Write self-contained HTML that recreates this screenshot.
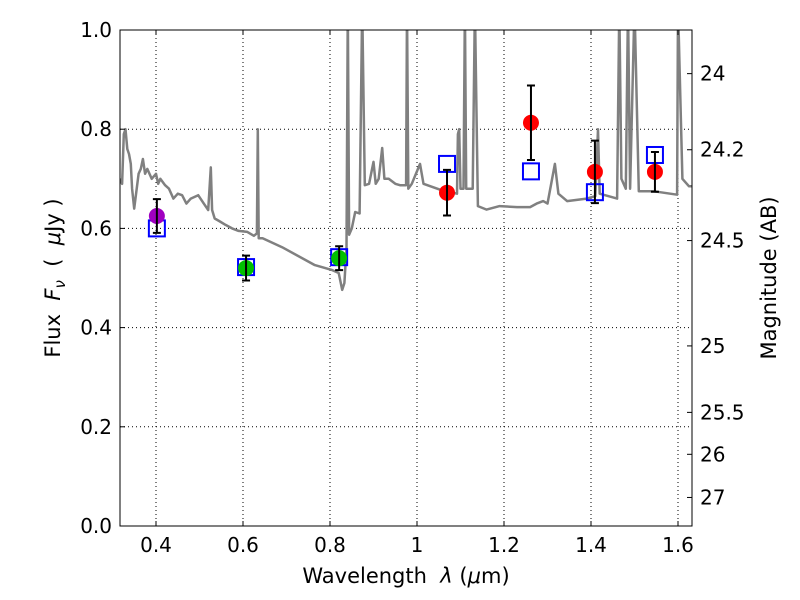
<!DOCTYPE html>
<html><head><meta charset="utf-8"><style>
body{margin:0;background:#fff}
svg{display:block;font-family:"DejaVu Sans","Liberation Sans",sans-serif}
</style></head><body>
<svg id="chart" width="800" height="600" xmlns="http://www.w3.org/2000/svg"></svg>
<script>
const specWl=[0.317,0.322,0.326,0.330,0.334,0.338,0.342,0.345,0.350,0.360,0.365,0.370,0.375,0.380,0.390,0.400,0.405,0.410,0.421,0.430,0.440,0.450,0.460,0.470,0.480,0.497,0.510,0.520,0.526,0.529,0.535,0.545,0.560,0.575,0.590,0.610,0.625,0.632,0.634,0.636,0.645,0.690,0.765,0.805,0.820,0.828,0.833,0.838,0.841,0.844,0.850,0.858,0.868,0.874,0.880,0.890,0.900,0.905,0.912,0.920,0.925,0.935,0.950,0.961,0.975,0.977,0.980,0.988,1.007,1.015,1.053,1.092,1.094,1.097,1.100,1.107,1.110,1.113,1.128,1.133,1.140,1.160,1.190,1.230,1.260,1.275,1.290,1.300,1.317,1.325,1.345,1.390,1.410,1.416,1.420,1.460,1.465,1.470,1.480,1.485,1.490,1.500,1.510,1.543,1.598,1.600,1.610,1.625,1.632];
const specF=[0.70,0.69,0.79,0.80,0.76,0.75,0.73,0.68,0.64,0.71,0.72,0.74,0.71,0.72,0.70,0.71,0.69,0.70,0.687,0.68,0.66,0.67,0.667,0.65,0.66,0.667,0.65,0.637,0.723,0.637,0.62,0.615,0.607,0.60,0.595,0.593,0.585,0.59,0.80,0.58,0.58,0.562,0.526,0.516,0.51,0.476,0.49,0.56,1.05,0.587,0.60,0.633,0.63,1.05,0.687,0.69,0.734,0.69,0.70,0.762,0.70,0.70,0.69,0.687,0.687,1.05,0.68,0.69,0.73,0.69,0.678,0.67,0.79,0.80,0.68,0.68,1.05,0.68,0.68,1.05,0.645,0.638,0.645,0.643,0.643,0.65,0.655,0.65,0.73,0.67,0.655,0.66,0.665,0.80,0.67,0.66,1.05,0.70,0.68,1.05,0.68,1.05,0.675,0.675,0.668,1.05,0.70,0.685,0.685];
const obsWl=[0.402,0.607,0.821,1.069,1.262,1.409,1.547];
const obsF=[0.625,0.520,0.540,0.672,0.813,0.714,0.714];
const obsErr=[0.034,0.025,0.024,0.046,0.075,0.063,0.040];
const obsColor=['#a000c0','#00c000','#00c000','#ff0000','#ff0000','#ff0000','#ff0000'];
const modelF=[0.600,0.522,0.542,0.730,0.715,0.673,0.748];
const xTicks=[0.4,0.6,0.8,1.0,1.2,1.4,1.6];
const xTickLabels=['0.4','0.6','0.8','1','1.2','1.4','1.6'];
const yTicks=[0,0.2,0.4,0.6,0.8,1.0];
const yTickLabels=['0.0','0.2','0.4','0.6','0.8','1.0'];
const magTicks=[24,24.2,24.5,25,25.5,26,27];
const magLabels=['24','24.2','24.5','25','25.5','26','27'];

const L=120,R=692,T=30,B=526;
const sx=w=>156+(w-0.4)*435;
const sy=f=>B-f*496;
const NS='http://www.w3.org/2000/svg';
const svg=document.getElementById('chart');
function mk(tag,attrs,parent){const e=document.createElementNS(NS,tag);for(const k in attrs)e.setAttribute(k,attrs[k]);(parent||svg).appendChild(e);return e;}

const defs=mk('defs',{});const cp=mk('clipPath',{id:'clip'},defs);mk('rect',{x:L,y:T,width:R-L,height:B-T},cp);

xTicks.forEach((t,i)=>{const g=mk('line',{x1:sx(t),x2:sx(t),y1:T,y2:B,stroke:'#000','stroke-width':1,'stroke-dasharray':'1,3'});

});
yTicks.forEach((t,i)=>{const g=mk('line',{x1:L,x2:R,y1:sy(t),y2:sy(t),stroke:'#000','stroke-width':1,'stroke-dasharray':'1,3'});

});

const pts=specWl.map((w,i)=>sx(w).toFixed(1)+','+sy(specF[i]).toFixed(1)).join(' ');
const sp=mk('polyline',{points:pts,fill:'none',stroke:'#808080','stroke-width':2.5,'clip-path':'url(#clip)','stroke-linejoin':'round'});



obsWl.forEach((w,i)=>{const r=mk('rect',{x:sx(w)-8,y:sy(modelF[i])-8,width:16,height:16,fill:'none',stroke:'#0000ff','stroke-width':2});

});
obsWl.forEach((w,i)=>{const x=sx(w);
const c=mk('circle',{cx:x,cy:sy(obsF[i]),r:8,fill:obsColor[i]});


const y1=sy(obsF[i]+obsErr[i]),y2=sy(obsF[i]-obsErr[i]);
const e=mk('path',{d:`M${x},${y1}V${y2}M${x-4},${y1}H${x+4}M${x-4},${y2}H${x+4}`,stroke:'#000','stroke-width':2,fill:'none'});

});

const fr=mk('rect',{x:L,y:T,width:R-L,height:B-T,fill:'none',stroke:'#000','stroke-width':1});



xTicks.forEach((t,i)=>{const x=sx(t);
mk('line',{x1:x,x2:x,y1:B,y2:B-5,stroke:'#000'});mk('line',{x1:x,x2:x,y1:T,y2:T+5,stroke:'#000'});
const tx=mk('text',{x:x,y:B+26,'text-anchor':'middle','font-size':20});tx.textContent=xTickLabels[i];

});
yTicks.forEach((t,i)=>{const y=sy(t);
mk('line',{x1:L,x2:L+5,y1:y,y2:y,stroke:'#000'});
const tx=mk('text',{x:L-8,y:y+7,'text-anchor':'end','font-size':20});tx.textContent=yTickLabels[i];

});
magTicks.forEach((m,i)=>{const y=sy(Math.pow(10,(23.9-m)/2.5));
mk('line',{x1:R,x2:R-5,y1:y,y2:y,stroke:'#000'});
const tx=mk('text',{x:R+8,y:y+7,'text-anchor':'start','font-size':20});tx.textContent=magLabels[i];

});
</script>
<svg style="position:absolute;left:0;top:0" width="800" height="600" xmlns="http://www.w3.org/2000/svg" font-family="DejaVu Sans, Liberation Sans, sans-serif">
<text x="406" y="583" text-anchor="middle" font-size="21" xml:space="preserve">Wavelength  <tspan font-style="italic">λ</tspan> (<tspan font-style="italic">μ</tspan>m)</text>
<text transform="translate(60,278) rotate(-90)" text-anchor="middle" font-size="21" xml:space="preserve">Flux  <tspan font-style="italic">F</tspan><tspan font-style="italic" font-size="15" dy="5">ν</tspan><tspan dy="-5">  (  </tspan><tspan font-style="italic">μ</tspan>Jy )</text>
<text transform="translate(776,278) rotate(-90)" text-anchor="middle" font-size="21">Magnitude (AB)</text>
</svg>
</body></html>
